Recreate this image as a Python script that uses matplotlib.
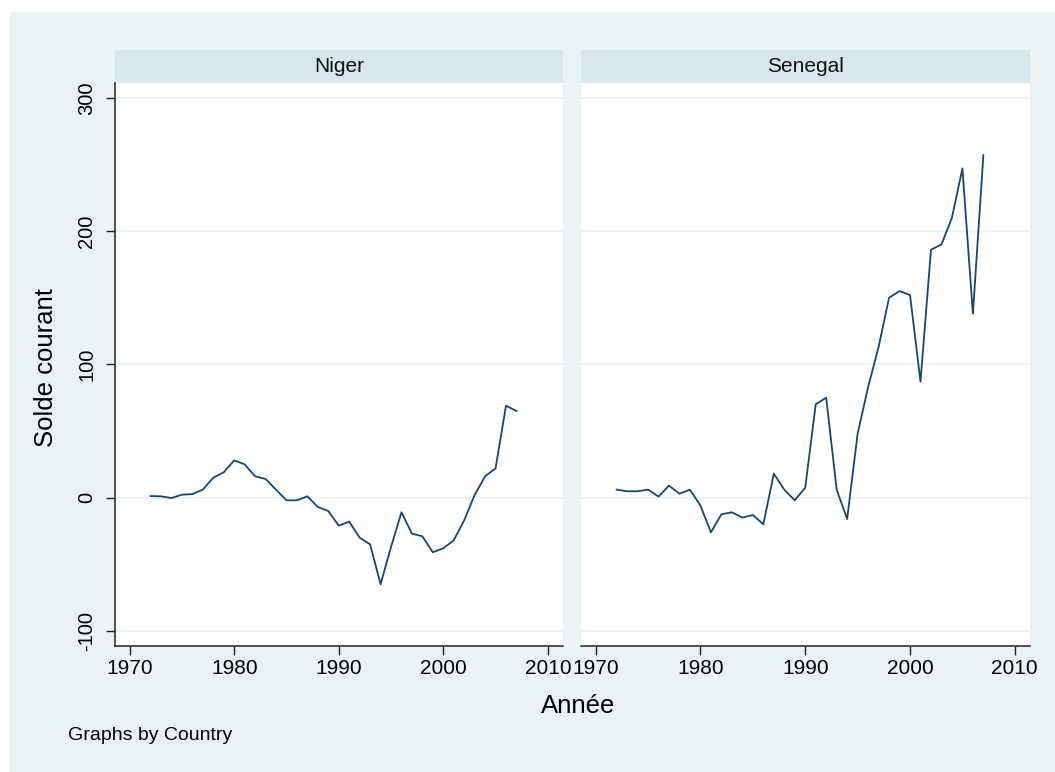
import matplotlib
matplotlib.use("Agg")
import matplotlib.pyplot as plt
from matplotlib.patches import Rectangle

plt.rcParams['font.family'] = ['Liberation Sans', 'DejaVu Sans']

years = list(range(1972, 2008))
niger = [1.2, 1, -0.3, 2.2, 2.7, 6, 15, 19, 28, 25, 16, 14, 6, -2, -2, 1,
         -7, -10, -21, -18, -30, -35, -65, -37, -11, -27, -29, -41, -38, -32,
         -17, 2, 16, 22, 69, 65]
senegal = [6, 4.8, 4.8, 6, 0.8, 9, 3, 6, -6, -26, -12.5, -11, -15, -13, -20, 18,
           6, -2, 7.5, 70, 75, 6, -16, 48, 83, 113, 150, 155, 152, 87,
           186, 190, 210, 247, 138, 257]
countries = ["Niger", "Senegal"]
xticks = [1970, 1980, 1990, 2000, 2010]
yticks = [-100, 0, 100, 200, 300]

bg = '#eaf2f3'
strip = '#d9e6eb'
navy = '#1a476f'

fig = plt.figure(figsize=(10.55, 7.72), dpi=100)
fig.patch.set_facecolor('white')
fig.add_artist(Rectangle((10 / 1055, -0.01), 1.1, 1.01 - 12 / 772, transform=fig.transFigure,
                         facecolor=bg, edgecolor='none', zorder=-10))

ax1 = fig.add_axes([115 / 1055, 126 / 772, 448 / 1055, 563 / 772])
ax2 = fig.add_axes([581 / 1055, 126 / 772, 449 / 1055, 563 / 772])

for ax, name, vals in zip([ax1, ax2], countries, [niger, senegal]):
    ax.set_facecolor('white')
    for y in yticks:
        ax.axhline(y, color=bg, lw=1.2, zorder=0)
    ax.plot(years, vals, color=navy, lw=1.3, zorder=3)
    ax.set_xlim(1968.6, 2011.45)
    ax.set_ylim(-111.3, 311.1)
    ax.set_xticks(xticks)
    ax.set_xticklabels([str(x) for x in xticks], fontsize=15)
    ax.tick_params(axis='x', length=6.5, width=1, pad=3, color='#222222')
    for s in ['top', 'right']:
        ax.spines[s].set_visible(False)
    ax.spines['bottom'].set_linewidth(1.1)
    ax.spines['bottom'].set_color('#222222')
    ax.add_patch(Rectangle((0, 1), 1, 33 / 563, transform=ax.transAxes,
                           facecolor=strip, edgecolor='none', clip_on=False))
    ax.text(0.5, 1 + 17 / 563, name, transform=ax.transAxes, ha='center',
            va='center', fontsize=15, color='#111111')

ax1.set_yticks(yticks)
ax1.set_yticklabels([str(y) for y in yticks], fontsize=14.5, rotation=90, va='center')
ax1.tick_params(axis='y', length=6.5, width=1, pad=7, color='#222222')
ax1.spines['left'].set_linewidth(1.1)
ax1.spines['left'].set_color('#222222')

ax2.spines['left'].set_visible(False)
ax2.set_yticks(yticks)
ax2.set_yticklabels([])
ax2.tick_params(axis='y', length=0)

fig.text(46 / 1055, 1 - 368 / 772, "Solde courant", rotation=90, ha='center',
         va='center', fontsize=18.5)
fig.text(578 / 1055, 1 - 706 / 772, "Année", ha='center', va='center', fontsize=18.5)
fig.text(68 / 1055, 1 - 736 / 772, "Graphs by Country", ha='left', va='center',
         fontsize=14)

fig.savefig("out.png", dpi=100)
